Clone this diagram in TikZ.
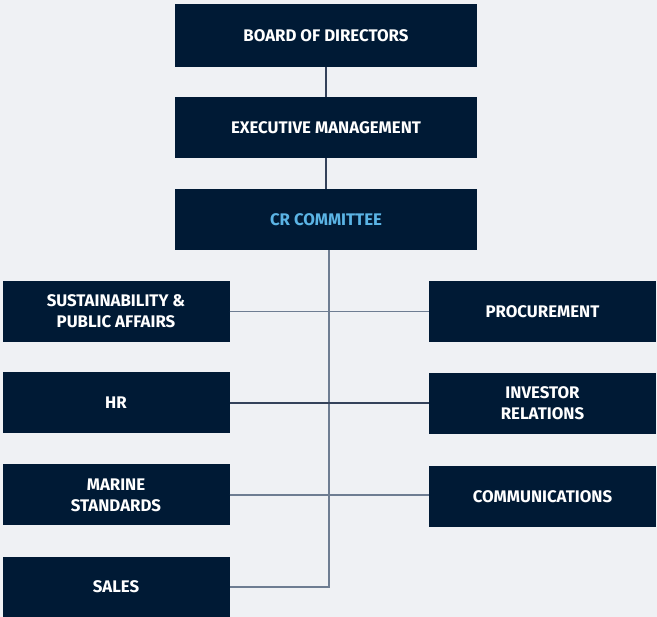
\documentclass[tikz,border=0pt]{standalone}
\usepackage{fontspec}
\setmainfont{Fira Sans}
\usepackage{tikz}
\usetikzlibrary{calc}

\definecolor{navy}{HTML}{001A35}
\definecolor{crblue}{HTML}{5BB4E5}
\definecolor{paper}{HTML}{EFF1F4}
\definecolor{linkgray}{HTML}{6E7D92}
\definecolor{linkdark}{HTML}{34425A}

\tikzset{
  unit/.style={fill=navy, text=white, font=\bfseries\fontsize{16.8}{21}\selectfont,
    align=center, inner sep=0pt, minimum height=61pt},
  topunit/.style={unit, minimum width=302pt},
  sideunit/.style={unit, minimum width=227pt},
  link/.style={linkgray, line width=1.4pt},
  darklink/.style={linkdark, line width=1.2pt}
}

\begin{document}
\begin{tikzpicture}[x=1pt, y=-1pt]
% Fond
\fill[paper] (0,0) rectangle (657,617);
\useasboundingbox (0,0) rectangle (657,617);
% Direction
\node[topunit, minimum height=63pt] (board) at (326,35.5) {BOARD OF DIRECTORS};
\node[topunit] (exec) at (326,127.5) {EXECUTIVE MANAGEMENT};
\node[topunit, text=crblue] (cr) at (326,219.5) {CR COMMITTEE};
% Gauche
\node[sideunit] (sust) at (116,311.5) {SUSTAINABILITY \&\\PUBLIC AFFAIRS};
\node[sideunit] (hr) at (116,403) {HR};
\node[sideunit] (marine) at (116,495) {MARINE\\STANDARDS};
\node[sideunit, minimum height=60pt] (sales) at (116,587) {SALES};
% Droite
\node[sideunit] (proc) at (542.5,311.5) {PROCUREMENT};
\node[sideunit] (invest) at (542.5,403.5) {INVESTOR\\RELATIONS};
\node[sideunit] (comm) at (542.5,496.5) {COMMUNICATIONS};
\coordinate (trunk) at (329,587);
% Liens
\draw[darklink] (board) -- (exec);
\draw[darklink] (exec) -- (cr);
\draw[link] (cr.south -| trunk) -- (trunk) -- (sales.east);
\draw[link] (sust.east) -- (proc.west);
\draw[darklink] (hr.east) -- (invest.west |- hr.east);
\draw[link] (marine.east) -- (comm.west |- marine.east);
\end{tikzpicture}
\end{document}
